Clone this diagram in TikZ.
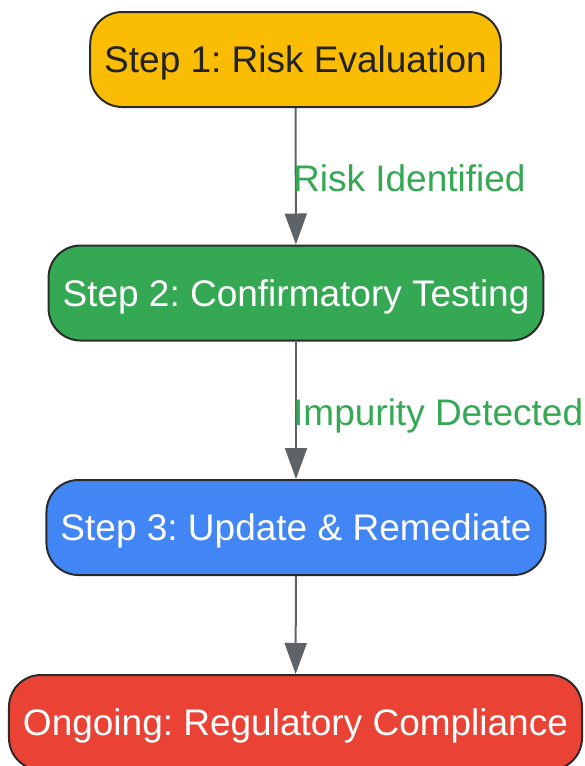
\documentclass[tikz,border=0pt]{standalone}
\usepackage{fontspec}
\setmainfont{Liberation Sans}
\usetikzlibrary{arrows.meta}
\definecolor{stepyellow}{HTML}{FBBC04}
\definecolor{stepgreen}{HTML}{34A853}
\definecolor{stepblue}{HTML}{4285F4}
\definecolor{stepred}{HTML}{EA4335}
\definecolor{boxline}{HTML}{2B2B2B}
\definecolor{arrowgray}{HTML}{5F6368}
\definecolor{textdark}{HTML}{222222}
\frenchspacing
\begin{document}
\begin{tikzpicture}[x=1pt,y=-1pt,
		stepbox/.style={draw=boxline,line width=2pt,rounded corners=32pt,minimum height=95pt,inner xsep=14pt,text height=26.5pt,text depth=0pt,font=\fontsize{37}{44}\selectfont},
		flow/.style={draw=arrowgray,line width=2pt,-{Triangle[length=31pt,width=22pt]}},
		cond/.style={text=stepgreen,anchor=west,inner sep=0pt,text height=26.5pt,text depth=0pt,font=\fontsize{37}{44}\selectfont}]
	\useasboundingbox (0,0) rectangle (585,766);
	
	\node[stepbox,fill=stepyellow,text=textdark] (risk) at (295.5,59.5) {Step 1: Risk Evaluation};
	\node[stepbox,fill=stepgreen,text=white] (confirm) at (296,293) {Step 2: Confirmatory Testing};
	\node[stepbox,fill=stepblue,text=white] (update) at (296,527.5) {Step 3: Update \& Remediate};
	\node[stepbox,fill=stepred,text=white] (ongoing) at (295.5,722.5) {Ongoing: Regulatory Compliance};
	
	\draw[flow] (risk) -- (confirm);
	\draw[flow] (confirm) -- (update);
	\draw[flow] (update) -- (ongoing);
	
	\node[cond] (identified) at (293,178) {Risk Identified};
	\node[cond] (detected) at (293,412) {Impurity Detected};
\end{tikzpicture}
\end{document}
